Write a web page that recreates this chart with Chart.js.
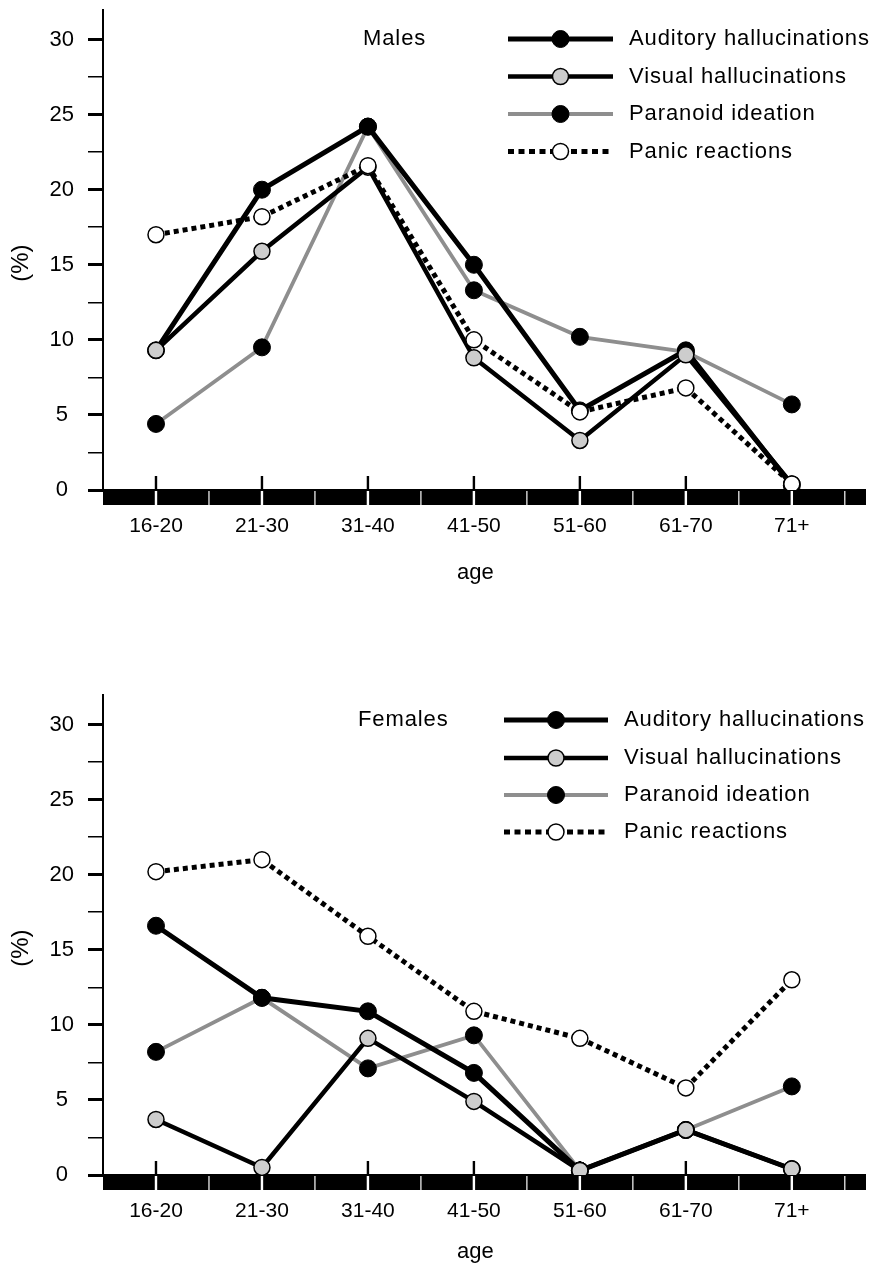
<!DOCTYPE html>
<html><head><meta charset="utf-8">
<script src="https://cdn.jsdelivr.net/npm/chart.js@4"></script>
<style>
html,body{margin:0;padding:0;background:#fff;width:876px;height:1269px;overflow:hidden}
.box{position:absolute;left:0;width:876px}
canvas{display:block}
</style></head><body>
<div class="box" style="top:0;height:685px"><canvas id="males" width="876" height="685"></canvas></div>
<div class="box" style="top:685px;height:584px"><canvas id="females" width="876" height="584"></canvas></div>
<script>
const categories = ['16-20','21-30','31-40','41-50','51-60','61-70','71+'];
const seriesNames = ['Auditory hallucinations','Visual hallucinations','Paranoid ideation','Panic reactions'];
const yTicks = [0,5,10,15,20,25,30];

const malesAuditory = [9.3,20.0,24.2,15.0,5.3,9.3,0.3];
const malesVisual   = [9.3,15.9,21.5,8.8,3.3,9.0,0.4];
const malesParanoid = [4.4,9.5,24.2,13.3,10.2,9.2,5.7];
const malesPanic    = [17.0,18.2,21.6,10.0,5.2,6.8,0.4];

const femalesAuditory = [16.6,11.8,10.9,6.8,0.3,3.0,0.4];
const femalesVisual   = [3.7,0.5,9.1,4.9,0.3,3.0,0.4];
const femalesParanoid = [8.2,11.8,7.1,9.3,0.3,3.0,5.9];
const femalesPanic    = [20.2,21.0,15.9,10.9,9.1,5.8,13.0];

const FONT = '"Liberation Sans",Arial,sans-serif';
const FS = 22;

const seriesStyles = [
  {borderColor:'#000', borderWidth:5, pointBackgroundColor:'#000', pointBorderColor:'#000', pointRadius:8.5, pointBorderWidth:1, order:2},
  {borderColor:'#000', borderWidth:4.5, pointBackgroundColor:'#cdcdcd', pointBorderColor:'#000', pointRadius:8, pointBorderWidth:1.5, order:1},
  {borderColor:'#8e8e8e', borderWidth:3.8, pointBackgroundColor:'#000', pointBorderColor:'#000', pointRadius:8.5, pointBorderWidth:1, order:3},
  {borderColor:'#000', borderWidth:5, borderDash:[5,4], pointBackgroundColor:'#fff', pointBorderColor:'#000', pointRadius:8, pointBorderWidth:1.5, order:0}
];

const overlay = {
  id: 'overlay',
  beforeDatasetsDraw(chart) {
    const ctx = chart.ctx, xs = chart.scales.x, ys = chart.scales.y, a = chart.chartArea;
    const y0 = ys.getPixelForValue(0);
    ctx.save();
    ctx.fillStyle = '#000';
    ctx.fillRect(a.left, y0 - 1, a.right - a.left, 16);
    ctx.fillStyle = '#fff';
    categories.forEach((c, i) => {
      const px = xs.getPixelForValue(i);
      ctx.fillRect(px - 1.2, y0 + 1, 2.4, 15);
      const mx = xs.getPixelForValue(i + 0.5);
      if (mx < a.right - 2) ctx.fillRect(mx - 0.6, y0 + 1, 1.2, 15);
    });
    ctx.fillStyle = '#000';
    categories.forEach((c, i) => {
      const px = xs.getPixelForValue(i);
      ctx.fillRect(px - 1.2, y0 - 14, 2.4, 14);
    });
    ctx.restore();
  },
  afterDraw(chart, args, opts) {
    const ctx = chart.ctx;
    ctx.save();
    ctx.font = FS + 'px ' + FONT;
    ctx.letterSpacing = '0.9px';
    ctx.fillStyle = '#000';
    ctx.textBaseline = 'middle';
    ctx.textAlign = 'left';
    ctx.fillText(opts.title, opts.titleX, opts.titleY);
    const L = opts.legend;
    chart.data.datasets.forEach((ds, i) => {
      const y = L.rows[i];
      ctx.save();
      ctx.strokeStyle = ds.borderColor;
      ctx.lineWidth = ds.borderWidth;
      ctx.setLineDash(ds.borderDash ? [6, 4.5] : []);
      ctx.beginPath(); ctx.moveTo(L.x1, y); ctx.lineTo(L.x2, y); ctx.stroke();
      ctx.setLineDash([]);
      ctx.beginPath();
      ctx.arc((L.x1 + L.x2) / 2, y, ds.pointRadius, 0, Math.PI * 2);
      ctx.fillStyle = ds.pointBackgroundColor; ctx.fill();
      ctx.lineWidth = ds.pointBorderWidth; ctx.strokeStyle = ds.pointBorderColor; ctx.stroke();
      ctx.fillStyle = '#000';
      ctx.fillText(ds.label, L.tx, y);
      ctx.restore();
    });
    ctx.restore();
  }
};

function makeChart(id, H, values, title, titlePos, legend, agePad) {
  const datasets = values.map((vals, i) => Object.assign({
    label: seriesNames[i],
    data: vals.map((v, j) => ({x: j, y: v})),
    tension: 0,
    fill: false
  }, seriesStyles[i]));
  return new Chart(document.getElementById(id), {
    type: 'line',
    data: {datasets},
    plugins: [overlay],
    options: {
      responsive: false, animation: false, devicePixelRatio: 1, events: [],
      layout: {padding: {top: 5, right: 10, left: 0, bottom: 0}},
      plugins: {
        legend: {display: false}, tooltip: {enabled: false},
        overlay: {title, titleX: titlePos[0], titleY: titlePos[1], legend}
      },
      scales: {
        x: {
          type: 'linear', min: -0.5, max: 6.7,
          afterFit(s) { s.height = H - 490; s.paddingLeft = 0; s.paddingRight = 0; },
          afterBuildTicks(s) { s.ticks = categories.map((c, i) => ({value: i})); },
          ticks: {autoSkip: false, maxRotation: 0, padding: 24, color: '#000',
                  font: {family: FONT, size: 21}, callback: (v) => categories[v] ?? ''},
          grid: {display: false, drawTicks: false},
          border: {display: false},
          title: {display: true, text: 'age   ', color: '#000', font: {family: FONT, size: FS},
                  padding: {top: 0, bottom: agePad}}
        },
        y: {
          min: 0, max: 32,
          afterFit(s) { s.width = 103; s.paddingTop = 0; s.paddingBottom = 0; },
          afterBuildTicks(s) { s.ticks = s.ticks.filter(t => Math.abs(t.value / 2.5 - Math.round(t.value / 2.5)) < 1e-6); },
          ticks: {stepSize: 2.5, autoSkip: false, crossAlign: 'center', padding: 14, color: '#000',
                  font: {family: FONT, size: FS},
                  callback: (v) => yTicks.includes(v) ? String(v) : ''},
          grid: {drawOnChartArea: false, drawTicks: true, tickLength: 15, color: '#000',
                 lineWidth: (c) => (c.tick && yTicks.includes(c.tick.value)) ? 3 : 1.5},
          border: {display: true, color: '#000', width: 2},
          title: {display: true, text: '(%)    ', color: '#000', font: {family: FONT, size: 24},
                  padding: {top: 7, bottom: 0}}
        }
      }
    }
  });
}

makeChart('males', 685, [malesAuditory, malesVisual, malesParanoid, malesPanic],
  'Males', [363, 39], {x1: 508, x2: 613, tx: 629, rows: [39, 76.5, 114, 151.5]}, 99);
makeChart('females', 584, [femalesAuditory, femalesVisual, femalesParanoid, femalesPanic],
  'Females', [358, 35], {x1: 504, x2: 608, tx: 624, rows: [35, 73, 110, 147]}, 4);
</script>
</body></html>
